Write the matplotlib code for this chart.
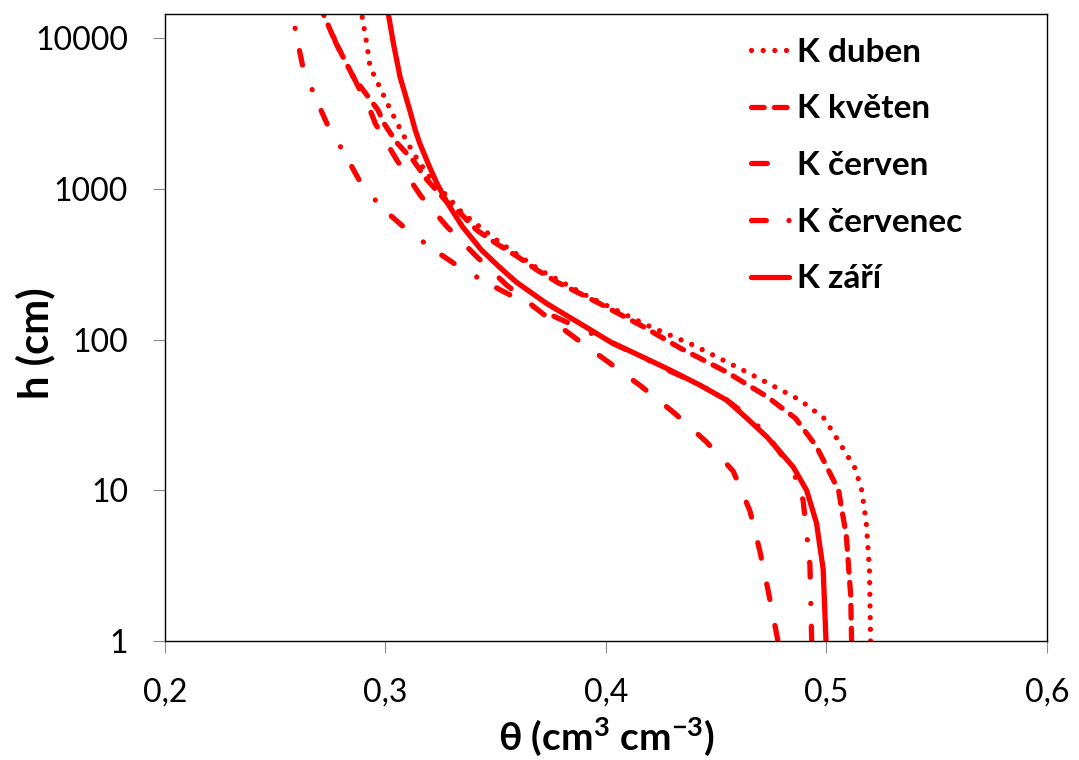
import matplotlib.pyplot as plt
from matplotlib.ticker import NullLocator

# retention curves, theta (cm3/cm3) vs suction h (cm)
duben_h = [1, 3, 6.2, 10, 14, 20.6, 30, 39.7, 61, 92, 122, 193, 290, 440, 550, 690, 1200, 1730, 2400, 3340, 4600, 6470, 9250, 14500]
duben_t = [0.520, 0.5195, 0.518, 0.516, 0.513, 0.506, 0.499, 0.488, 0.4638, 0.4396, 0.420, 0.392, 0.370, 0.352, 0.3435, 0.335, 0.320, 0.3126, 0.3073, 0.3023, 0.2978, 0.293, 0.2915, 0.2892]

kveten_h = [1, 2, 5, 7.4, 10, 19.5, 30, 42, 61, 88, 122, 174, 203, 240, 290, 355, 437, 535, 690, 830, 1170, 1520, 2040, 2700, 3340, 5560, 9250, 14500]
kveten_t = [0.5114, 0.511, 0.509, 0.507, 0.5055, 0.4955, 0.486, 0.4729, 0.4547, 0.4336, 0.4169, 0.397, 0.388, 0.378, 0.3687, 0.360, 0.350, 0.3413, 0.334, 0.3275, 0.3184, 0.313, 0.305, 0.2995, 0.2966, 0.2854, 0.2776, 0.2718]

cerven_h = [1, 2.18, 3.95, 7.3, 13.4, 21, 32.6, 49, 72, 104, 150, 230, 354, 560, 900, 1550, 2700, 3340, 5560, 9250, 14500]
cerven_t = [0.478, 0.4735, 0.4698, 0.4653, 0.4577, 0.4455, 0.431, 0.416, 0.4005, 0.3855, 0.371, 0.355, 0.3415, 0.328, 0.316, 0.3052, 0.2955, 0.293, 0.2854, 0.2776, 0.2725]

cervenec_h = [1, 3.2, 5.2, 8.6, 13.6, 21, 29.7, 40.5, 51.5, 62.8, 79, 121, 152, 186, 234, 300, 394, 537, 750, 1090, 1700, 2630, 4100, 6600, 10700, 14500]
cervenec_t = [0.4933, 0.4925, 0.491, 0.4894, 0.4848, 0.4753, 0.4661, 0.454, 0.4411, 0.428, 0.4145, 0.3873, 0.3723, 0.360, 0.347, 0.334, 0.322, 0.3096, 0.2984, 0.2889, 0.2816, 0.2739, 0.268, 0.2624, 0.2594, 0.258]

zari_h = [1, 3, 6.06, 10, 14.3, 18, 22.7, 30, 39.7, 50, 64.5, 80, 97, 120, 174, 240, 300, 394, 560, 810, 1100, 1400, 2000, 2460, 3340, 5560, 9250, 14500]
zari_t = [0.4998, 0.4985, 0.4955, 0.491, 0.4849, 0.479, 0.4729, 0.464, 0.4547, 0.4425, 0.4275, 0.414, 0.4018, 0.3914, 0.373, 0.3595, 0.352, 0.3435, 0.335, 0.328, 0.3232, 0.320, 0.3156, 0.3135, 0.311, 0.3066, 0.3036, 0.3013]

labels = ['K duben', 'K květen', 'K červen', 'K červenec', 'K září']
xticks = [0.2, 0.3, 0.4, 0.5, 0.6]
yticks = [1, 10, 100, 1000, 10000]

fam = ['Lato', 'DejaVu Sans']
plt.rcParams['mathtext.fontset'] = 'custom'
plt.rcParams['mathtext.rm'] = 'Lato:bold'
plt.rcParams['mathtext.it'] = 'Lato:bold'
plt.rcParams['mathtext.bf'] = 'Lato:bold'
red = '#FF0000'
lw = 3.8

fig = plt.figure(figsize=(10.79, 7.6), dpi=100)
ax = fig.add_axes([0.1529, 0.1566, 0.8174, 0.825])

styles = [
    (0, (0.01, 2.2)),
    (0, (2.4, 1.95)),
    (0, (3.0, 5.0)),
    (0, (2.8, 4.3, 0.01, 5.0)),
    '-',
]
data = [(duben_t, duben_h), (kveten_t, kveten_h), (cerven_t, cerven_h),
        (cervenec_t, cervenec_h), (zari_t, zari_h)]

for (t, h), ls, lab in zip(data, styles, labels):
    ax.plot(t, h, color=red, lw=lw, linestyle=ls, label=lab,
            dash_capstyle='round', solid_capstyle='round', solid_joinstyle='round')

ax.set_yscale('log')
ax.set_xlim(0.2, 0.6)
ax.set_ylim(1, 14500)
ax.yaxis.set_minor_locator(NullLocator())
ax.set_xticks(xticks)
ax.set_xticklabels([('%.1f' % v).replace('.', ',') for v in xticks])
ax.set_yticks(yticks)
ax.set_yticklabels([str(v) for v in yticks])
ax.tick_params(direction='out', length=8.6, width=0.8, color='#898989', pad=18,
               labelsize=23)
for lab in ax.get_xticklabels() + ax.get_yticklabels():
    lab.set_family(fam)
for s in ax.spines.values():
    s.set_linewidth(1.0)
    s.set_color('black')

ax.set_xlabel('θ (cm$^{3}$ cm$^{-3}$)', fontsize=28, fontweight='bold', family=fam)
ax.set_ylabel('h (cm)', fontsize=30, fontweight='bold', family=fam)
ax.xaxis.set_label_coords(0.5, -0.153)
ax.xaxis.label.set_va('center')
ax.yaxis.set_label_coords(-0.147, 0.475)
ax.yaxis.label.set_va('center')

ax.legend(loc='upper left', bbox_to_anchor=(0.664, 0.962), frameon=False,
          prop={'family': fam, 'weight': 'bold', 'size': 24},
          handlelength=1.165, handletextpad=0.23, labelspacing=0.83,
          borderpad=0, borderaxespad=0)

fig.savefig('out.png', dpi=100)
